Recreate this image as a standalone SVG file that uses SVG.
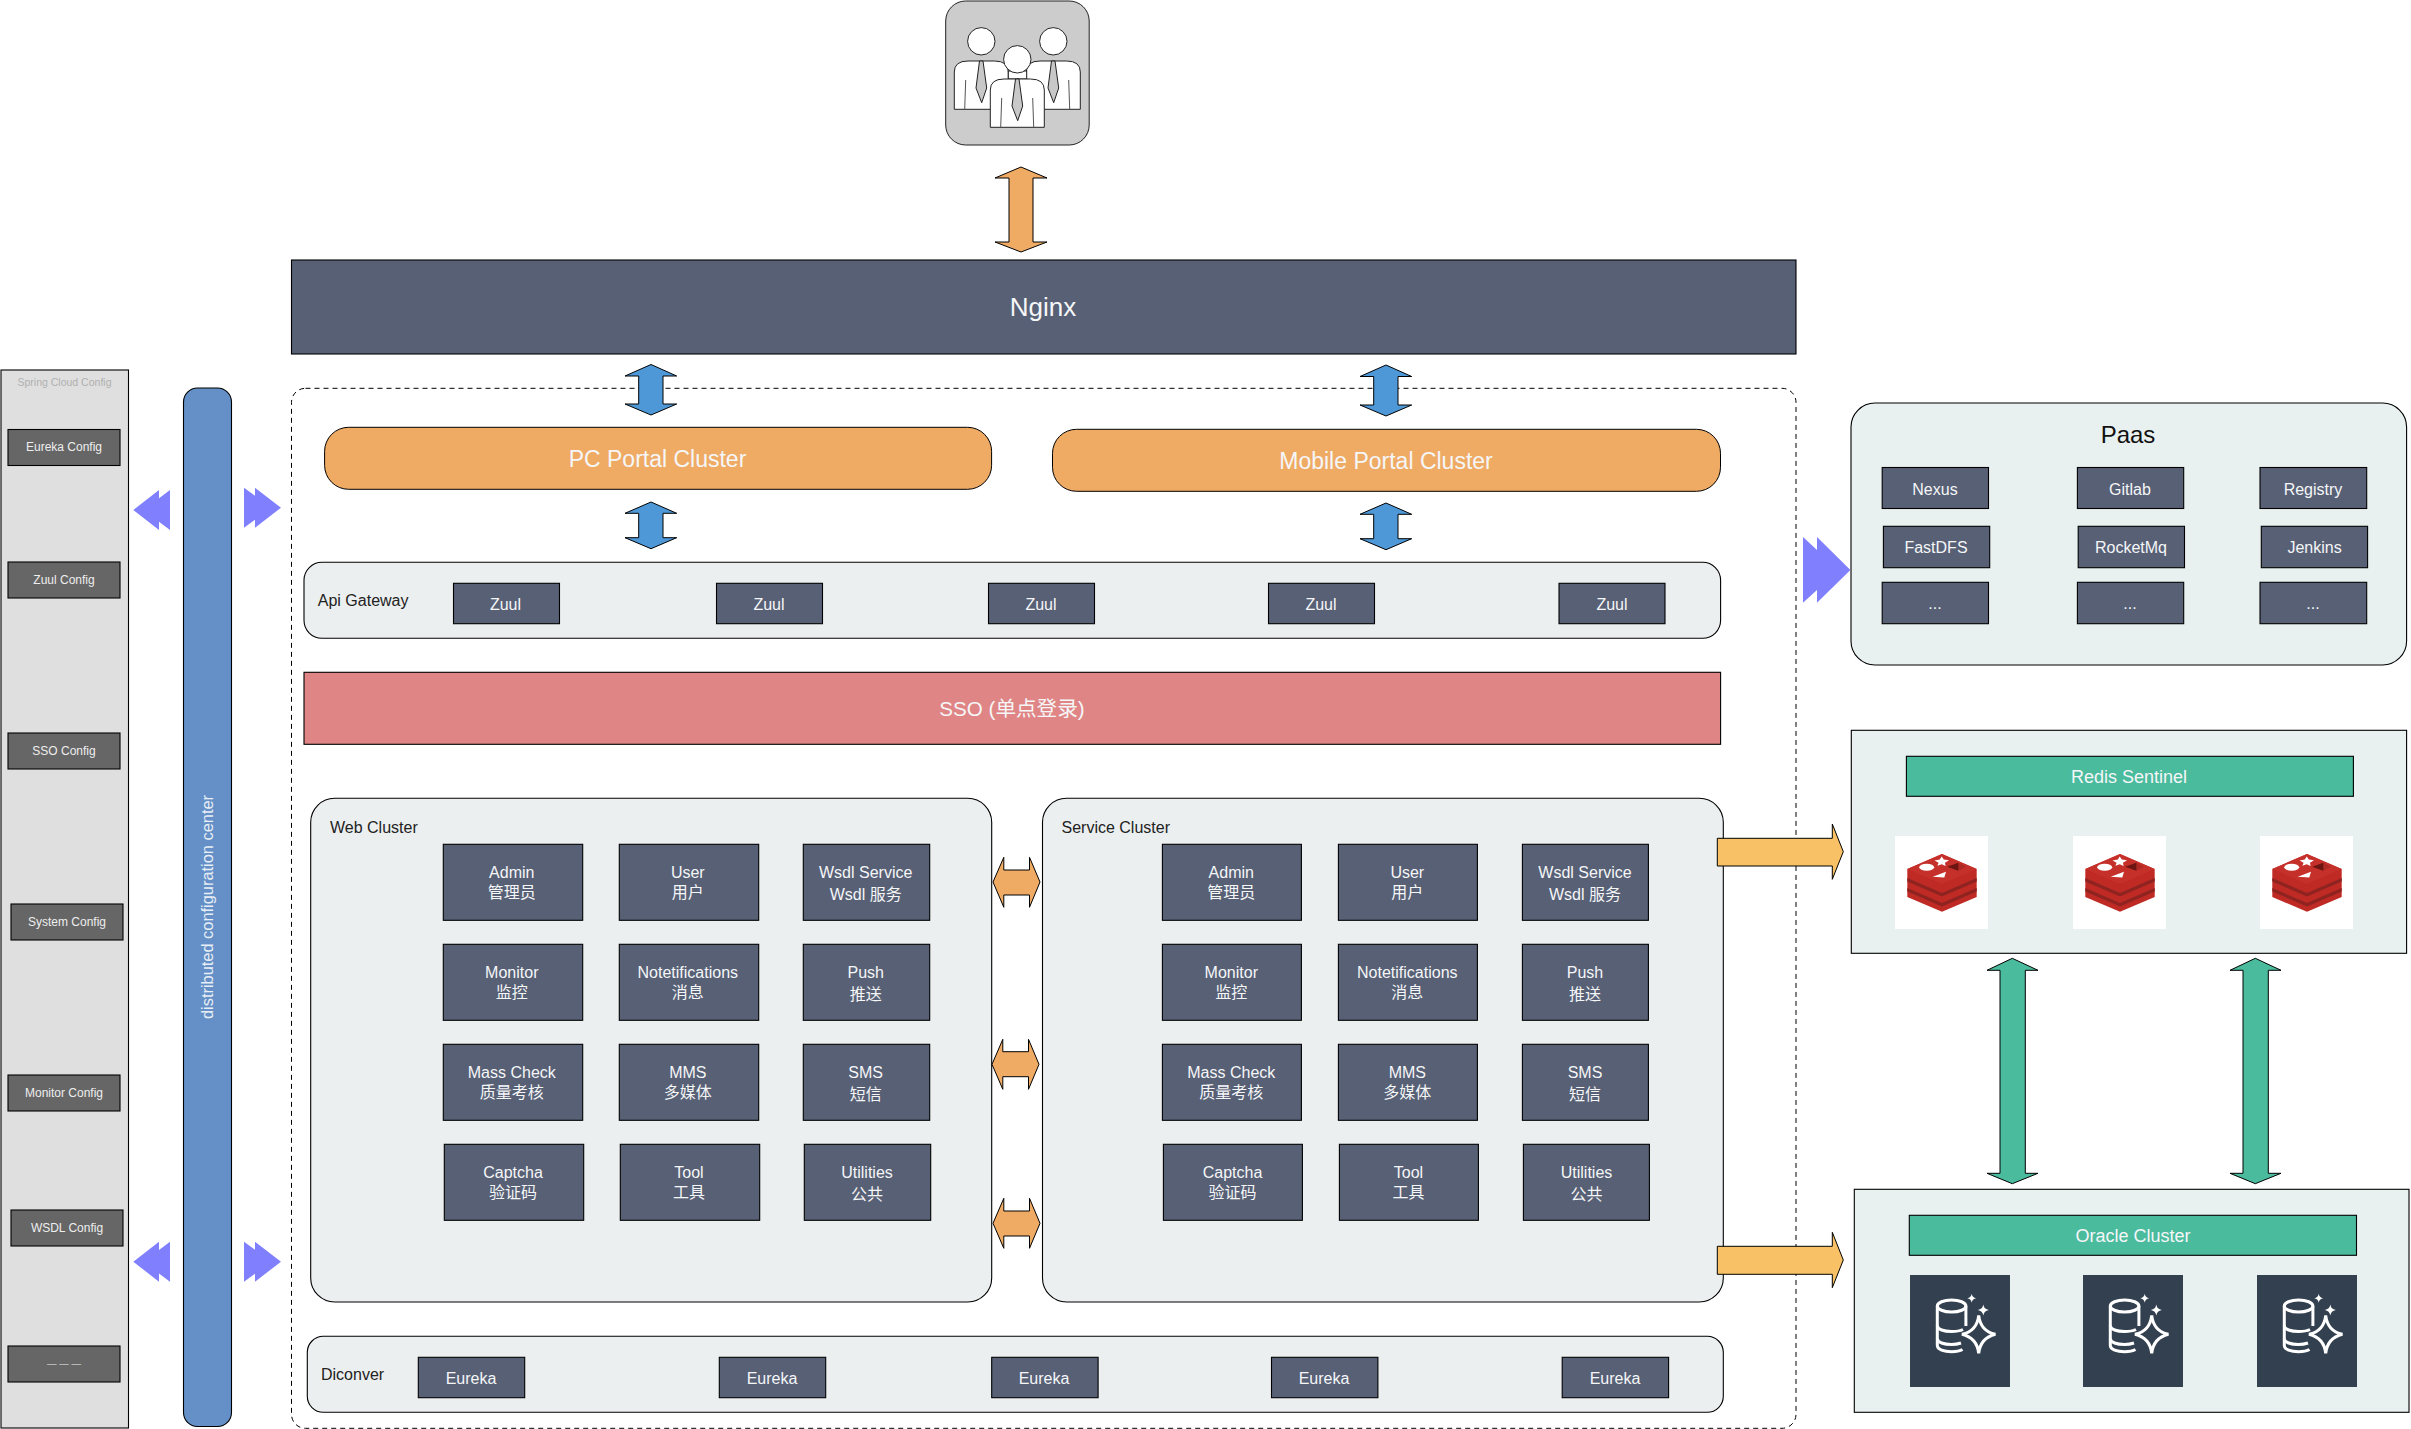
<svg xmlns="http://www.w3.org/2000/svg" width="2411" height="1429" viewBox="0 0 2411 1429">
<style>
text{font-family:"Liberation Sans","Noto Sans CJK SC",sans-serif;text-anchor:middle;fill:#f5f6f8;font-size:16px}
.panel{fill:#eceff0;stroke:#000;stroke-width:1.1}
.redis{fill:#e9f0f0;stroke:#000;stroke-width:1.1}
.b{fill:#576075;stroke:#000;stroke-width:1.1}
.cfg{fill:#666;stroke:#000;stroke-width:1.1}
.cfgt{font-size:12px;fill:#eee}
.dark{fill:#222;text-anchor:start}
.or{fill:#efaa64;stroke:#000;stroke-width:1}
.bl{fill:#4e98d8;stroke:#000;stroke-width:1}
.gr{fill:#4abb9d;stroke:#000;stroke-width:1}
.ye{fill:#f8c166;stroke:#000;stroke-width:1}
.pu{fill:#8080ff}
.bar{fill:#4abb9d;stroke:#000;stroke-width:1.1}
.pp{fill:#fff;stroke:#222;stroke-width:1}
</style>
<defs>
<g id="person">
<circle class="pp" cx="981.3" cy="41.3" r="13.7"/>
<path class="pp" d="M954.3 109.3V72Q954.3 61 968 61H994.5Q1008.3 61 1008.3 72V109.3Z"/>
<path d="M965.7 80L964.7 109.3M996.7 80L997.7 109.3" fill="none" stroke="#555" stroke-width="1"/>
<polygon points="979.5,61 983,61 986.7,88 981.7,102.7 976,88" fill="#c8c8c8" stroke="#222" stroke-width="1"/>
</g>
<g id="redisicon">
<rect width="93" height="93" fill="#fff"/>
<path d="M12.3 33L47 18L81.7 33V61L47 75.7L12.3 61Z" fill="#bf2a25"/>
<path d="M12.3 42L47 57L81.7 42V45.5L47 60.5L12.3 45.5Z" fill="#8e2320"/>
<path d="M12.3 52L47 67L81.7 52V55.5L47 70.5L12.3 55.5Z" fill="#8e2320"/>
<path d="M12.3 33L47 18L81.7 33L47 48Z" fill="#c6302b"/>
<ellipse cx="31.7" cy="31.3" rx="7.5" ry="3.5" fill="#fff"/>
<polygon points="46.7,20.5 48.8,23.5 54,24.3 50,26.8 50.6,30 46.7,28.2 42.4,29.8 43.6,26.8 39.5,24.5 44.8,23.6" fill="#fff"/>
<polygon points="37.7,40.7 51,35.7 49.3,41.5" fill="#fff"/>
<polygon points="52.3,30.7 63.3,26.7 71,30.7 63.3,34.7" fill="#ad2a24"/>
<polygon points="52.3,30.7 63.3,26.7 63.3,34.7" fill="#6d1512"/>
</g>
<g id="dbicon">
<rect width="100" height="112" fill="#33404f"/>
<g fill="none" stroke="#fff" stroke-width="3">
<ellipse cx="41.6" cy="31" rx="14.3" ry="6"/>
<path d="M27.3 31V70.5C27.3 74.5 34 76.7 41.6 76.7C46 76.7 50 76 52.5 74.5"/>
<path d="M55.9 31V51"/>
<path d="M27.3 50.5C27.3 54.5 34 56.5 41.6 56.5C46 56.5 50 56 53 54.5"/>
<path d="M27.3 63.5C27.3 67.5 34 69.5 41.6 69.5C45 69.5 48 69 51 68"/>
<path d="M68.7 40.3Q70.5 56 85.4 59.3Q70.5 63 68.7 78.3Q67 63 52 59.3Q67 56 68.7 40.3Z" fill="#33404f"/>
</g>
<path d="M61.7 18.8Q62.2 22.7 66.2 23.3Q62.2 24 61.7 27.8Q61.2 24 57.2 23.3Q61.2 22.7 61.7 18.8Z" fill="#fff"/>
<path d="M73.3 29.5Q74 34.2 78.8 35Q74 35.8 73.3 40.5Q72.6 35.8 67.8 35Q72.6 34.2 73.3 29.5Z" fill="#fff"/>
</g>
</defs>

<g id="users">
<rect x="945.7" y="1" width="143.5" height="144" rx="20" fill="#ccc" stroke="#222" stroke-width="1"/>
<use href="#person"/>
<use href="#person" x="72"/>
<rect class="pp" x="1008.3" y="71" width="18.4" height="8"/>
<use href="#person" x="36" y="18"/>
</g>

<g id="nginx"><rect class="b" x="291.5" y="260" width="1504.5" height="94"/><text x="1043" y="316" style="font-size:26px">Nginx</text></g>

<g id="config-panel">
<rect x="1" y="370" width="127.5" height="1058" fill="#dfdfdf" stroke="#000" stroke-width="1.1"/>
<text x="64.5" y="386" style="font-size:10.5px;fill:#b0b0b0">Spring Cloud Config</text>
</g>
<g id="cfg-eureka"><rect class="cfg" x="8" y="429.5" width="112" height="36"/><text class="cfgt" x="64" y="450.7">Eureka Config</text></g>
<g id="cfg-zuul"><rect class="cfg" x="8" y="562" width="112" height="36"/><text class="cfgt" x="64" y="583.5">Zuul Config</text></g>
<g id="cfg-sso"><rect class="cfg" x="8" y="733" width="112" height="36"/><text class="cfgt" x="64" y="754.5">SSO Config</text></g>
<g id="cfg-system"><rect class="cfg" x="11" y="904" width="112" height="36"/><text class="cfgt" x="67" y="925.5">System Config</text></g>
<g id="cfg-monitor"><rect class="cfg" x="8" y="1075" width="112" height="36"/><text class="cfgt" x="64" y="1096.5">Monitor Config</text></g>
<g id="cfg-wsdl"><rect class="cfg" x="11" y="1210" width="112" height="36"/><text class="cfgt" x="67" y="1232">WSDL Config</text></g>
<g id="cfg-more"><rect class="cfg" x="8" y="1346" width="112" height="36"/><text x="64" y="1367" style="font-size:9.5px;fill:#eee">— — —</text></g>

<g id="config-center"><rect x="183.5" y="388" width="48" height="1038.5" rx="14" fill="#6490c7" stroke="#000" stroke-width="1.1"/>
<text transform="translate(213,907) rotate(-90)" style="font-size:16.4px;fill:#e8eef5">distributed configuration center</text></g>

<g id="boundary"><rect x="291.5" y="388.3" width="1504.5" height="1040" rx="14" fill="none" stroke="#000" stroke-width="1" stroke-dasharray="5 4"/></g>

<g id="pc-portal"><rect class="or" x="324.6" y="427.3" width="667" height="62" rx="24"/><text x="657.5" y="466.7" style="font-size:23px">PC Portal Cluster</text></g>
<g id="mobile-portal"><rect class="or" x="1052.5" y="429.3" width="668" height="62" rx="24"/><text x="1386" y="468.7" style="font-size:23px">Mobile Portal Cluster</text></g>

<g id="api-gateway"><rect class="panel" x="304" y="562.3" width="1416.6" height="76" rx="18"/><text class="dark" x="317.8" y="606">Api Gateway</text></g>
<g id="zuul-1"><rect class="b" x="453.5" y="583.3" width="106" height="40.4"/><text x="505.5" y="610">Zuul</text></g>
<g id="zuul-2"><rect class="b" x="716.5" y="583.3" width="106" height="40.4"/><text x="769" y="610">Zuul</text></g>
<g id="zuul-3"><rect class="b" x="988.5" y="583.3" width="106" height="40.4"/><text x="1041" y="610">Zuul</text></g>
<g id="zuul-4"><rect class="b" x="1268.5" y="583.3" width="106" height="40.4"/><text x="1321" y="610">Zuul</text></g>
<g id="zuul-5"><rect class="b" x="1559" y="583.3" width="106" height="40.4"/><text x="1612" y="610">Zuul</text></g>

<g id="sso"><rect x="304" y="672.3" width="1416.6" height="72" fill="#e08585" stroke="#000" stroke-width="1.1"/><text x="1012" y="716" style="font-size:20.6px">SSO (单点登录)</text></g>

<g id="web-cluster"><rect class="panel" x="310.7" y="798.3" width="681" height="503.7" rx="24"/><text class="dark" x="330" y="833">Web Cluster</text></g>
<g id="w-admin"><rect class="b" x="443.3" y="844.3" width="139.4" height="76"/><text x="511.8" y="878">Admin</text><text x="511.8" y="898">管理员</text></g>
<g id="w-user"><rect class="b" x="619.3" y="844.3" width="139.4" height="76"/><text x="687.8" y="878">User</text><text x="687.8" y="898">用户</text></g>
<g id="w-wsdl"><rect class="b" x="803.3" y="844.3" width="126.4" height="76"/><text x="865.7" y="878">Wsdl Service</text><text x="865.7" y="900">Wsdl 服务</text></g>
<g id="w-monitor"><rect class="b" x="443.3" y="944.3" width="139.4" height="76"/><text x="511.8" y="978">Monitor</text><text x="511.8" y="998">监控</text></g>
<g id="w-note"><rect class="b" x="619.3" y="944.3" width="139.4" height="76"/><text x="687.8" y="978">Notetifications</text><text x="687.8" y="998">消息</text></g>
<g id="w-push"><rect class="b" x="803.3" y="944.3" width="126.4" height="76"/><text x="865.7" y="978">Push</text><text x="865.7" y="1000">推送</text></g>
<g id="w-mass"><rect class="b" x="443.3" y="1044.3" width="139.4" height="76"/><text x="511.8" y="1078">Mass Check</text><text x="511.8" y="1098">质量考核</text></g>
<g id="w-mms"><rect class="b" x="619.3" y="1044.3" width="139.4" height="76"/><text x="687.8" y="1078">MMS</text><text x="687.8" y="1098">多媒体</text></g>
<g id="w-sms"><rect class="b" x="803.3" y="1044.3" width="126.4" height="76"/><text x="865.7" y="1078">SMS</text><text x="865.7" y="1100">短信</text></g>
<g id="w-captcha"><rect class="b" x="444.3" y="1144.3" width="139.4" height="76"/><text x="513" y="1178">Captcha</text><text x="513" y="1198">验证码</text></g>
<g id="w-tool"><rect class="b" x="620.3" y="1144.3" width="139.4" height="76"/><text x="689" y="1178">Tool</text><text x="689" y="1198">工具</text></g>
<g id="w-util"><rect class="b" x="804.3" y="1144.3" width="126.4" height="76"/><text x="867" y="1178">Utilities</text><text x="867" y="1200">公共</text></g>

<g id="service-cluster"><rect class="panel" x="1042.5" y="798.3" width="680.8" height="503.7" rx="24"/><text class="dark" x="1061.5" y="833">Service Cluster</text></g>
<g id="s-admin"><rect class="b" x="1162.4" y="844.3" width="139" height="76"/><text x="1231.3" y="878">Admin</text><text x="1231.3" y="898">管理员</text></g>
<g id="s-user"><rect class="b" x="1338.4" y="844.3" width="139" height="76"/><text x="1407.3" y="878">User</text><text x="1407.3" y="898">用户</text></g>
<g id="s-wsdl"><rect class="b" x="1522.4" y="844.3" width="126" height="76"/><text x="1585" y="878">Wsdl Service</text><text x="1585" y="900">Wsdl 服务</text></g>
<g id="s-monitor"><rect class="b" x="1162.4" y="944.3" width="139" height="76"/><text x="1231.3" y="978">Monitor</text><text x="1231.3" y="998">监控</text></g>
<g id="s-note"><rect class="b" x="1338.4" y="944.3" width="139" height="76"/><text x="1407.3" y="978">Notetifications</text><text x="1407.3" y="998">消息</text></g>
<g id="s-push"><rect class="b" x="1522.4" y="944.3" width="126" height="76"/><text x="1585" y="978">Push</text><text x="1585" y="1000">推送</text></g>
<g id="s-mass"><rect class="b" x="1162.4" y="1044.3" width="139" height="76"/><text x="1231.3" y="1078">Mass Check</text><text x="1231.3" y="1098">质量考核</text></g>
<g id="s-mms"><rect class="b" x="1338.4" y="1044.3" width="139" height="76"/><text x="1407.3" y="1078">MMS</text><text x="1407.3" y="1098">多媒体</text></g>
<g id="s-sms"><rect class="b" x="1522.4" y="1044.3" width="126" height="76"/><text x="1585" y="1078">SMS</text><text x="1585" y="1100">短信</text></g>
<g id="s-captcha"><rect class="b" x="1163.4" y="1144.3" width="139" height="76"/><text x="1232.5" y="1178">Captcha</text><text x="1232.5" y="1198">验证码</text></g>
<g id="s-tool"><rect class="b" x="1339.4" y="1144.3" width="139" height="76"/><text x="1408.5" y="1178">Tool</text><text x="1408.5" y="1198">工具</text></g>
<g id="s-util"><rect class="b" x="1523.4" y="1144.3" width="126" height="76"/><text x="1586.5" y="1178">Utilities</text><text x="1586.5" y="1200">公共</text></g>

<g id="discover"><rect class="panel" x="307.3" y="1336.3" width="1416" height="76" rx="16"/><text class="dark" x="321" y="1380">Diconver</text></g>
<g id="eureka-1"><rect class="b" x="418.3" y="1357.3" width="106.4" height="40.4"/><text x="471" y="1384">Eureka</text></g>
<g id="eureka-2"><rect class="b" x="719.3" y="1357.3" width="106.4" height="40.4"/><text x="772" y="1384">Eureka</text></g>
<g id="eureka-3"><rect class="b" x="991.7" y="1357.3" width="106.4" height="40.4"/><text x="1044" y="1384">Eureka</text></g>
<g id="eureka-4"><rect class="b" x="1271.5" y="1357.3" width="106.4" height="40.4"/><text x="1324" y="1384">Eureka</text></g>
<g id="eureka-5"><rect class="b" x="1562.2" y="1357.3" width="106.4" height="40.4"/><text x="1615" y="1384">Eureka</text></g>

<g id="paas"><rect class="redis" x="1851" y="403" width="555.6" height="262" rx="24"/><text x="2128" y="443" style="font-size:24px;fill:#111">Paas</text></g>
<g id="p-nexus"><rect class="b" x="1882.2" y="467.5" width="106.3" height="41"/><text x="1935" y="494.5">Nexus</text></g>
<g id="p-gitlab"><rect class="b" x="2077.4" y="467.5" width="106.3" height="41"/><text x="2130" y="494.5">Gitlab</text></g>
<g id="p-registry"><rect class="b" x="2260" y="467.5" width="106.7" height="41"/><text x="2313" y="494.5">Registry</text></g>
<g id="p-fastdfs"><rect class="b" x="1883.4" y="526.3" width="106.3" height="41.4"/><text x="1936" y="553">FastDFS</text></g>
<g id="p-rocketmq"><rect class="b" x="2078.2" y="526.3" width="106.3" height="41.4"/><text x="2131" y="553">RocketMq</text></g>
<g id="p-jenkins"><rect class="b" x="2261.3" y="526.3" width="106.3" height="41.4"/><text x="2314.5" y="553">Jenkins</text></g>
<g id="p-more-1"><rect class="b" x="1882.2" y="582.3" width="106.3" height="41.4"/><text x="1935" y="609">...</text></g>
<g id="p-more-2"><rect class="b" x="2077.4" y="582.3" width="106.3" height="41.4"/><text x="2130" y="609">...</text></g>
<g id="p-more-3"><rect class="b" x="2260" y="582.3" width="106.7" height="41.4"/><text x="2313" y="609">...</text></g>

<g id="redis-sentinel"><rect class="redis" x="1851.3" y="730.3" width="555.3" height="223"/>
<rect class="bar" x="1906.4" y="756.3" width="447" height="40"/><text x="2129" y="783" style="font-size:18px">Redis Sentinel</text></g>
<g id="redis-1"><use href="#redisicon" x="1895" y="836"/></g>
<g id="redis-2"><use href="#redisicon" x="2073" y="836"/></g>
<g id="redis-3"><use href="#redisicon" x="2260" y="836"/></g>

<g id="oracle-cluster"><rect class="redis" x="1854.3" y="1189.3" width="554.7" height="223"/>
<rect class="bar" x="1909.3" y="1215.3" width="447.2" height="40"/><text x="2133" y="1242" style="font-size:18px">Oracle Cluster</text></g>
<g id="db-1"><use href="#dbicon" x="1910" y="1275"/></g>
<g id="db-2"><use href="#dbicon" x="2083" y="1275"/></g>
<g id="db-3"><use href="#dbicon" x="2257" y="1275"/></g>

<g id="connectors">
<polygon class="or" points="1021,167 1047,178 1033,178 1033,242 1047,242 1021,252 995,242 1009,242 1009,178 995,178"/>
<polygon class="bl" points="651,364.5 676.7,376 663,376 663,404 676.7,404 651,415 625,404 638.7,404 638.7,376 625,376"/>
<polygon class="bl" points="651,502 676.7,513.3 663,513.3 663,537.7 676.7,537.7 651,548.7 625,537.7 638.7,537.7 638.7,513.3 625,513.3"/>
<polygon class="bl" points="1386,365 1411.7,376.5 1398,376.5 1398,405 1411.7,405 1386,416 1360,405 1373.7,405 1373.7,376.5 1360,376.5"/>
<polygon class="bl" points="1386,503 1411.7,514.3 1398,514.3 1398,538.7 1411.7,538.7 1386,549.7 1360,538.7 1373.7,538.7 1373.7,514.3 1360,514.3"/>
<polygon class="or" points="993,882 1003.8,857.3 1003.8,870 1029.5,870 1029.5,857.3 1040,882 1029.5,907.3 1029.5,895 1003.8,895 1003.8,907.3"/>
<polygon class="or" points="992,1064.3 1002.8,1039.3 1002.8,1051.7 1028.5,1051.7 1028.5,1039.3 1039,1064.3 1028.5,1089.3 1028.5,1076.7 1002.8,1076.7 1002.8,1089.3"/>
<polygon class="or" points="993,1223.3 1003.8,1198.3 1003.8,1211 1029.5,1211 1029.5,1198.3 1040,1223.3 1029.5,1248.3 1029.5,1236 1003.8,1236 1003.8,1248.3"/>
<polygon class="ye" points="1717.3,838.3 1832.3,838.3 1832.3,824 1843.3,851.7 1832.3,879.3 1832.3,866 1717.3,866"/>
<polygon class="ye" points="1717.3,1246.3 1832.3,1246.3 1832.3,1232.3 1843.3,1260 1832.3,1287.7 1832.3,1274.3 1717.3,1274.3"/>
<polygon class="gr" points="2012.3,958.3 2038,970.3 2025.3,970.3 2025.3,1173.3 2038,1173.3 2012.3,1183.7 1987,1173.3 2000,1173.3 2000,970.3 1987,970.3"/>
<polygon class="gr" points="2255.3,958.3 2281,970.3 2268.3,970.3 2268.3,1173.3 2281,1173.3 2255.3,1183.7 2230,1173.3 2243,1173.3 2243,970.3 2230,970.3"/>
<polygon class="pu" points="133.3,510 159,490 159,498.3 170,490 170,530 159,521.7 159,530"/>
<polygon class="pu" points="281,507.7 255,487.7 255,495.7 244,487.7 244,527.7 255,519.7 255,527.7"/>
<polygon class="pu" points="133.3,1261.7 159,1241.7 159,1250 170,1241.7 170,1281.7 159,1273.4 159,1281.7"/>
<polygon class="pu" points="281,1261.7 255,1241.7 255,1249.7 244,1241.7 244,1281.7 255,1273.7 255,1281.7"/>
<polygon class="pu" points="1850.4,570 1817,537 1817,550 1803,537 1803,602.7 1817,590 1817,602.7"/>
</g>
</svg>
